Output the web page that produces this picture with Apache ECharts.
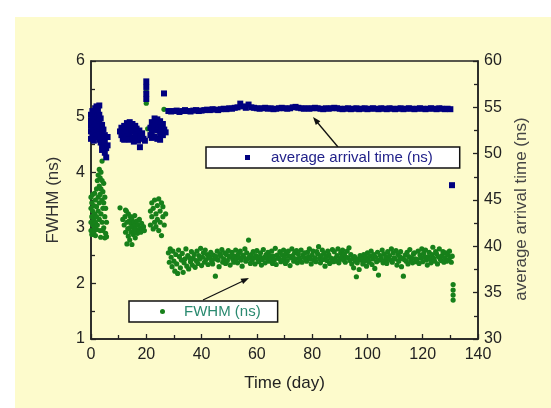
<!DOCTYPE html>
<html>
<head>
<meta charset="utf-8">
<script src="https://cdn.jsdelivr.net/npm/echarts@6/dist/echarts.min.js"></script>
<style>
  html, body { margin: 0; padding: 0; background: #fff; }
  #chart { width: 551px; height: 408px; }
</style>
</head>
<body>
<div id="chart"></div>
<script>
// FWHM (left axis, ns) and average arrival time (right axis, ns) vs day.
// Values, cluster by cluster.

const FONT = "'Liberation Sans', Arial, sans-serif";

const xTicks = { min: 0, max: 140, interval: 20 };
const fwhmTicks = { min: 1, max: 6, interval: 1 };
const arrivalTicks = { min: 30, max: 60, interval: 5 };

// --- FWHM (ns), green dots ---
const fwhmFirstWeek = [
  [0, 3.1], [0, 3.35], [0, 2.95], [0, 3.55], [0.3, 3.2], [0.3, 3.45], [0.3, 2.88],
  [0.6, 3.05], [0.6, 3.3], [0.6, 3.6], [1, 3.15], [1, 2.92], [1, 3.4], [1.3, 3.25],
  [1.3, 3.0], [1.3, 3.62], [1.6, 3.1], [1.6, 3.5], [1.6, 2.86], [2, 3.2], [2, 3.38],
  [2, 2.97], [2, 3.7], [2.3, 3.85], [2.3, 3.05], [2.6, 3.3], [2.6, 3.95], [2.6, 3.55],
  [3, 3.15], [3, 3.75], [3, 4.05], [3, 3.45], [3.3, 2.95], [3.3, 3.6], [3.3, 3.9],
  [3.6, 3.25], [3.6, 4.0], [3.6, 3.7], [4, 4.2], [4, 3.5], [4, 3.1], [4, 3.85],
  [4.3, 2.95], [4.3, 3.35], [4.3, 3.65], [4.6, 3.0], [4.6, 3.45], [4.6, 3.8],
  [5, 2.82], [5, 3.2], [5, 3.55], [5.3, 3.35], [5.3, 2.9], [5.6, 3.1], [5.6, 2.84],
  [3.5, 2.83]
];
const fwhmSecondBlock = [
  [10.5, 3.36], [11.5, 3.15], [12, 3.05], [12.3, 3.2], [12.5, 2.92], [12.5, 3.32],
  [12.8, 3.3], [13, 3.1], [13, 2.71], [13.3, 2.98], [13.5, 3.25], [13.5, 2.85],
  [13.8, 3.12], [14, 3.0], [14, 2.78], [14.3, 3.2], [14.5, 2.92], [14.5, 3.08],
  [14.8, 2.7], [14.8, 3.15], [15, 3.02], [15.3, 2.88], [15.5, 3.1], [15.5, 2.95],
  [15.8, 3.22], [16, 3.05], [16, 2.82], [16.3, 2.97], [16.5, 3.12], [16.8, 2.9],
  [17, 3.05], [17.3, 2.95], [17.5, 3.15], [17.8, 3.0], [18, 2.92], [18.3, 3.08],
  [18.6, 2.98], [19, 3.02], [19.3, 2.95]
];
const fwhmThirdBlock = [
  [21.5, 3.3], [21.5, 3.05], [22, 3.45], [22, 3.2], [22.5, 2.98], [22.5, 3.35],
  [23, 3.1], [23, 3.5], [23.5, 3.25], [23.5, 3.02], [24, 3.4], [24, 3.15],
  [24.5, 3.52], [24.5, 2.95], [25, 3.3], [25, 3.1], [25.5, 3.45], [25.5, 2.86],
  [26, 3.2], [26, 3.38], [26.5, 3.05], [27, 3.25]
];
const fwhmStrays = [[20, 5.45], [20, 5.24], [20.5, 4.78], [26.4, 5.13],
  [131, 1.98], [131, 1.88], [131, 1.79], [131, 1.7]];

// three readings a day from day 28 to day 130
const fwhmTailStart = 28;
const fwhmTailValues = [
  2.55, 2.38, 2.62, 2.47, 2.30, 2.58, 2.40, 2.22, 2.52, 2.35, 2.18, 2.60, 2.48, 2.28, 2.42,
  2.54, 2.20, 2.37, 2.44, 2.62, 2.31, 2.50, 2.26, 2.46, 2.39, 2.57, 2.33, 2.45, 2.52, 2.29,
  2.41, 2.58, 2.36, 2.50, 2.44, 2.63, 2.32, 2.47, 2.55, 2.38, 2.60, 2.43, 2.52, 2.34, 2.49,
  2.46, 2.56, 2.40, 2.35, 2.51, 2.44, 2.13, 2.48, 2.58, 2.42, 2.30, 2.53, 2.49, 2.61, 2.38,
  2.44, 2.55, 2.36, 2.52, 2.41, 2.59, 2.47, 2.33, 2.50, 2.56, 2.43, 2.38, 2.49, 2.60, 2.45,
  2.37, 2.53, 2.46, 2.58, 2.42, 2.31, 2.51, 2.47, 2.62, 2.40, 2.55, 2.44, 2.78, 2.48, 2.36,
  2.52, 2.42, 2.57, 2.46, 2.35, 2.50, 2.59, 2.44, 2.39, 2.48, 2.55, 2.33, 2.43, 2.61, 2.47,
  2.37, 2.52, 2.45, 2.56, 2.40, 2.50, 2.44, 2.58, 2.36, 2.49, 2.42, 2.63, 2.34, 2.51, 2.46,
  2.45, 2.57, 2.39, 2.52, 2.43, 2.60, 2.47, 2.36, 2.54, 2.41, 2.58, 2.49, 2.32, 2.46, 2.62,
  2.50, 2.40, 2.55, 2.44, 2.59, 2.37, 2.53, 2.46, 2.42, 2.60, 2.38, 2.51, 2.47, 2.55, 2.43,
  2.40, 2.56, 2.48, 2.62, 2.44, 2.35, 2.51, 2.58, 2.42, 2.46, 2.39, 2.57, 2.53, 2.66, 2.45,
  2.37, 2.50, 2.60, 2.43, 2.55, 2.31, 2.48, 2.41, 2.58, 2.52, 2.36, 2.46, 2.44, 2.61, 2.39,
  2.57, 2.45, 2.40, 2.50, 2.62, 2.37, 2.44, 2.55, 2.48, 2.60, 2.42, 2.53, 2.38, 2.47, 2.58,
  2.46, 2.64, 2.41, 2.52, 2.35, 2.45, 2.28, 2.48, 2.40, 2.12, 2.37, 2.44, 2.25, 2.50, 2.42,
  2.46, 2.35, 2.52, 2.40, 2.48, 2.31, 2.55, 2.43, 2.38, 2.49, 2.58, 2.34, 2.44, 2.52, 2.27,
  2.47, 2.39, 2.56, 2.15, 2.42, 2.50, 2.45, 2.60, 2.37, 2.53, 2.41, 2.48, 2.36, 2.57, 2.44,
  2.50, 2.42, 2.62, 2.38, 2.55, 2.46, 2.44, 2.59, 2.33, 2.52, 2.40, 2.48, 2.57, 2.30, 2.45,
  2.13, 2.43, 2.51, 2.40, 2.56, 2.35, 2.48, 2.61, 2.42, 2.46, 2.37, 2.53, 2.55, 2.44, 2.39,
  2.43, 2.58, 2.36, 2.51, 2.46, 2.62, 2.39, 2.54, 2.47, 2.60, 2.42, 2.33, 2.48, 2.56, 2.44,
  2.37, 2.52, 2.65, 2.45, 2.40, 2.57, 2.53, 2.35, 2.48, 2.62, 2.44, 2.41, 2.50, 2.57, 2.38,
  2.46, 2.55, 2.40, 2.52, 2.43, 2.58, 2.47, 2.38, 2.49
];

// --- average arrival time (ns), navy squares ---
const arrivalFirstWeek = [
  [0, 54.2], [0, 53.6], [0, 53.0], [0, 52.4], [0, 51.6], [0.5, 54.6], [0.5, 53.9],
  [0.5, 53.2], [0.5, 52.7], [0.5, 52.0], [1, 54.0], [1, 53.4], [1, 52.8], [1, 52.1],
  [1, 51.4], [1.5, 54.9], [1.5, 54.3], [1.5, 53.7], [1.5, 53.1], [1.5, 52.5],
  [2, 55.1], [2, 54.5], [2, 53.5], [2, 52.9], [2, 52.2], [2.5, 54.8], [2.5, 54.0],
  [2.5, 53.3], [2.5, 52.6], [2.5, 51.8], [3, 55.2], [3, 54.2], [3, 53.6], [3, 52.4],
  [3, 51.5], [3.5, 53.8], [3.5, 52.9], [3.5, 52.1], [3.5, 51.2], [4, 53.1], [4, 52.3],
  [4, 51.0], [4, 50.4], [4.5, 52.6], [4.5, 51.7], [4.5, 50.8], [5, 52.0], [5, 51.2],
  [5, 50.1], [5.5, 49.6], [5.5, 50.6], [6, 51.8], [6, 50.9]
];
const arrivalSecondBlock = [
  [10.5, 52.4], [11, 52.0], [11, 52.8], [11.5, 51.6], [12, 53.0], [12, 52.3],
  [12, 51.5], [12.5, 52.7], [13, 53.3], [13, 52.5], [13, 51.8], [13.5, 52.1],
  [14, 53.4], [14, 52.9], [14, 52.2], [14, 51.5], [14.5, 52.6], [15, 53.2],
  [15, 52.4], [15, 51.7], [15.5, 51.3], [16, 53.0], [16, 52.2], [16, 51.6],
  [16.5, 52.7], [17, 52.0], [17, 51.4], [17.5, 52.5], [18, 51.8], [18.5, 52.2],
  [19, 51.6], [19.5, 51.4], [17.7, 50.7]
];
const arrivalThirdBlock = [
  [21.5, 52.8], [21.5, 52.0], [22, 53.4], [22, 52.4], [22, 51.7], [22.5, 53.0],
  [23, 53.8], [23, 52.6], [23, 51.8], [23.5, 53.2], [24, 53.7], [24, 52.5],
  [24, 51.6], [24.5, 52.9], [25, 53.5], [25, 52.2], [25, 51.5], [25.5, 52.7],
  [26, 53.2], [26, 52.0], [26.5, 52.6], [27, 52.3]
];
const arrivalStrays = [[20, 57.8], [20, 57.2], [20, 56.5], [20, 55.9],
  [26.4, 56.5], [130.6, 46.6]];

// one reading a day from day 28 to day 130
const arrivalLineStart = 28;
const arrivalLineValues = [
  54.6, 54.55, 54.6, 54.65, 54.5, 54.6, 54.7, 54.6, 54.55, 54.65,
  54.7, 54.6, 54.65, 54.7, 54.75, 54.7, 54.8, 54.75, 54.7, 54.8,
  54.85, 54.8, 54.9, 54.85, 54.95, 55.0, 55.4, 55.1, 54.95, 55.3,
  55.0, 54.95, 54.9, 54.85, 54.9, 54.95, 54.85, 54.9, 54.8, 54.85,
  54.9, 54.95, 54.9, 54.85, 54.9, 55.0, 55.05, 54.95, 54.9, 54.85,
  54.9, 54.85, 54.9, 54.95, 54.9, 54.85, 54.8, 54.9, 54.85, 54.9,
  54.95, 54.9, 54.85, 54.8, 54.85, 54.9, 54.8, 54.85, 54.9, 54.8,
  54.85, 54.9, 54.8, 54.85, 54.9, 54.85, 54.8, 54.9, 54.85, 54.8,
  54.9, 54.85, 54.8, 54.85, 54.9, 54.8, 54.85, 54.9, 54.85, 54.8,
  54.85, 54.9, 54.85, 54.8, 54.85, 54.9, 54.85, 54.8, 54.9, 54.85,
  54.8, 54.85, 54.8
];

const fwhmTail = fwhmTailValues.map((v, i) => [fwhmTailStart + i / 3, v]);
const arrivalLine = arrivalLineValues.map((v, i) => [arrivalLineStart + i, v]);

const fwhmData = [].concat(fwhmFirstWeek, fwhmSecondBlock, fwhmThirdBlock, fwhmStrays, fwhmTail);
const arrivalData = [].concat(arrivalFirstWeek, arrivalSecondBlock, arrivalThirdBlock, arrivalStrays, arrivalLine);

const INK = "#222";
const GREEN = "#17801a";
const NAVY = "#00007f";

function valueAxis(extra) {
  return Object.assign({
    type: "value",
    nameLocation: "middle",
    nameTextStyle: { fontSize: 17, color: "#333", fontFamily: FONT },
    axisLine: { show: true, lineStyle: { color: INK, width: 1.5 } },
    axisTick: { show: true, inside: true, length: 5, lineStyle: { color: INK, width: 1.3 } },
    minorTick: { show: true, splitNumber: 2, length: 4, lineStyle: { color: INK, width: 1.3 } },
    axisLabel: { fontSize: 16, color: INK, fontFamily: FONT },
    splitLine: { show: false },
    minorSplitLine: { show: false },
  }, extra);
}

const chart = echarts.init(document.getElementById("chart"), null, { renderer: "canvas" });

chart.setOption({
  animation: false,
  backgroundColor: "#ffffff",
  textStyle: { fontFamily: FONT },
  graphic: [
    { type: "rect", z: -10, silent: true, shape: { x: 15, y: 17, width: 536, height: 391 },
      style: { fill: "#fdfbcc" } },
    // arrow to the arrival-time line
    { type: "line", shape: { x1: 338, y1: 147, x2: 317, y2: 122 }, style: { stroke: "#111", lineWidth: 1.3 } },
    { type: "polygon", shape: { points: [[313, 117], [320.4, 121.2], [315.8, 125]] }, style: { fill: "#111" } },
    // arrow to the FWHM band
    { type: "line", shape: { x1: 203, y1: 300, x2: 243, y2: 281 }, style: { stroke: "#111", lineWidth: 1.3 } },
    { type: "polygon", shape: { points: [[249, 278], [243.1, 284.1], [240.5, 278.7]] }, style: { fill: "#111" } },
  ],
  grid: {
    left: 91, top: 61, right: 73, bottom: 69,
    show: true, borderColor: INK, borderWidth: 1.5, backgroundColor: "transparent",
  },
  legend: [
    {
      data: ["average arrival time (ns)"],
      left: 206, top: 147,
      padding: [3, 27, 3, 39],
      backgroundColor: "#ffffff", borderColor: "#111", borderWidth: 1.5, borderRadius: 0,
      icon: "rect", itemWidth: 5, itemHeight: 5,
      textStyle: { color: "#22228a", fontSize: 15, fontFamily: FONT, lineHeight: 15, padding: [0, 0, 0, 16] },
    },
    {
      data: ["FWHM (ns)"],
      left: 129, top: 301,
      padding: [3, 17, 3, 31],
      backgroundColor: "#ffffff", borderColor: "#111", borderWidth: 1.5, borderRadius: 0,
      icon: "circle", itemWidth: 5, itemHeight: 5,
      textStyle: { color: "#2a8a70", fontSize: 15, fontFamily: FONT, lineHeight: 15, padding: [0, 0, 0, 14] },
    },
  ],
  xAxis: valueAxis({
    min: xTicks.min, max: xTicks.max, interval: xTicks.interval,
    position: "bottom",
    name: "Time (day)", nameGap: 36,
    nameTextStyle: { fontSize: 17, color: INK, fontFamily: FONT },
    axisLabel: { fontSize: 16, color: INK, fontFamily: FONT, margin: 8 },
  }),
  yAxis: [
    valueAxis({
      min: fwhmTicks.min, max: fwhmTicks.max, interval: fwhmTicks.interval,
      position: "left",
      name: "FWHM (ns)", nameGap: 29,
      axisLabel: { fontSize: 16, color: INK, fontFamily: FONT, margin: 6 },
    }),
    valueAxis({
      min: arrivalTicks.min, max: arrivalTicks.max, interval: arrivalTicks.interval,
      position: "right",
      name: "average arrival time (ns)", nameGap: 35, nameRotate: 90,
      nameTextStyle: { fontSize: 17, color: "#444", fontFamily: FONT, padding: [0, 18, 0, 0] },
      axisLabel: { fontSize: 16, color: INK, fontFamily: FONT, margin: 6 },
    }),
  ],
  series: [
    {
      name: "FWHM (ns)",
      type: "scatter",
      yAxisIndex: 0,
      symbol: "circle",
      symbolSize: 5.2,
      itemStyle: { color: GREEN, opacity: 1, borderWidth: 0 },
      data: fwhmData,
    },
    {
      name: "average arrival time (ns)",
      type: "scatter",
      yAxisIndex: 1,
      symbol: "rect",
      symbolSize: 6,
      itemStyle: { color: NAVY, opacity: 1, borderWidth: 0 },
      data: arrivalData,
    },
  ],
});
</script>
</body>
</html>
